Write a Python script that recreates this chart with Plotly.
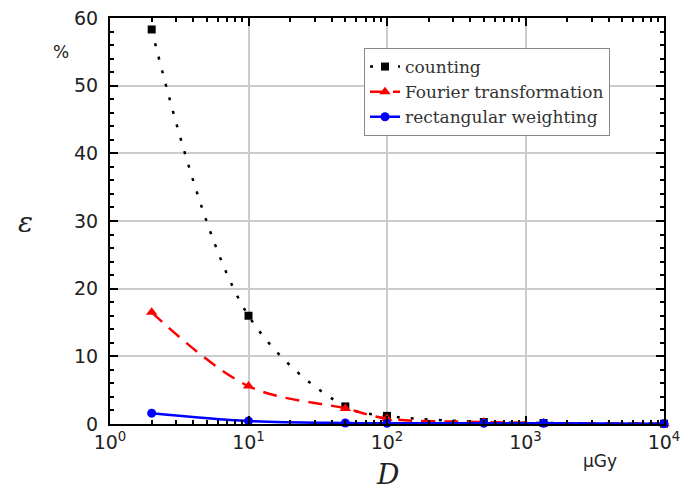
import plotly.graph_objects as go

dose = [2, 10, 50, 100, 500, 1350, 10000]
counting = [58.3, 16.0, 2.6, 1.2, 0.3, 0.15, 0.05]
fourier = [16.5, 5.6, 2.3, 0.8, 0.3, 0.15, 0.05]
rect = [1.6, 0.45, 0.15, 0.1, 0.1, 0.1, 0.05]

xtickvals = [1, 10, 100, 1000, 10000]
xticktext = ["10<sup>0</sup>", "10<sup>1</sup>", "10<sup>2</sup>", "10<sup>3</sup>", "10<sup>4</sup>"]
xminorvals = [m * 10 ** e for e in range(4) for m in range(2, 10)]
ytickvals = [0, 10, 20, 30, 40, 50, 60]

fig = go.Figure()
fig.add_trace(go.Scatter(
    x=dose, y=counting, name="counting", mode="lines+markers",
    line=dict(color="black", width=2.5, dash="3px,11px", shape="spline"),
    marker=dict(symbol="square", size=8, color="black"), cliponaxis=False))
fig.add_trace(go.Scatter(
    x=dose, y=fourier, name="Fourier transformation", mode="lines+markers",
    line=dict(color="#ff0000", width=2.5, dash="14px,9px", shape="spline"),
    marker=dict(symbol="triangle-up", size=10, color="#ff0000"), cliponaxis=False))
fig.add_trace(go.Scatter(
    x=dose, y=rect, name="rectangular weighting", mode="lines+markers",
    line=dict(color="#0000ff", width=2.5, shape="spline"),
    marker=dict(symbol="circle", size=9, color="#0000ff"), cliponaxis=False))

W, H = 696, 497
l, r, t, b = 110, 32, 18, 73
pw, ph = W - l - r, H - t - b

axis_font = dict(family="DejaVu Sans", size=19, color="#222222")
fig.update_layout(
    width=W, height=H,
    margin=dict(l=l, r=r, t=t, b=b, autoexpand=False),
    plot_bgcolor="white", paper_bgcolor="white",
    showlegend=True,
    legend=dict(x=(364 - l) / pw, y=1 - (48 - t) / ph, xanchor="left", yanchor="top",
                bgcolor="white", bordercolor="#888888", borderwidth=1,
                font=dict(family="DejaVu Serif", size=17, color="#333333"),
                tracegroupgap=0),
    xaxis=dict(type="log", range=[0, 4], tickvals=xtickvals, ticktext=xticktext,
               showgrid=True, gridcolor="#cccccc", gridwidth=1.5,
               showline=True, linecolor="black", linewidth=2, mirror="ticks",
               ticks="inside", ticklen=8, tickwidth=1.5, tickcolor="black",
               tickfont=axis_font, zeroline=False,
               minor=dict(ticks="inside", ticklen=4, tickwidth=1.5, tickcolor="black",
                          tickvals=xminorvals, showgrid=False)),
    yaxis=dict(range=[0, 60], tickvals=ytickvals,
               showgrid=True, gridcolor="#cccccc", gridwidth=1.5,
               showline=True, linecolor="black", linewidth=2, mirror="ticks",
               ticks="inside", ticklen=8, tickwidth=1.5, tickcolor="black",
               tickfont=axis_font, zeroline=False, ticklabelstandoff=6,
               minor=dict(ticks="inside", ticklen=4, tickwidth=1.5, tickcolor="black",
                          dtick=2, showgrid=False)),
)

labels = [
    (25, 222, "<i>ε</i>", "DejaVu Serif", 28),
    (61, 52, "%", "DejaVu Sans", 17),
    (387, 474, "<i>D</i>", "DejaVu Serif", 28),
    (600, 461, "μGy", "DejaVu Sans", 17),
]
for px, py, txt, fam, sz in labels:
    fig.add_annotation(x=(px - l) / pw, y=1 - (py - t) / ph, xref="paper", yref="paper",
                       text=txt, showarrow=False, xanchor="center", yanchor="middle",
                       font=dict(family=fam, size=sz, color="#222222"))

fig.write_html("out.html", config={"displayModeBar": False},
               post_script="document.body.style.margin='0';")
